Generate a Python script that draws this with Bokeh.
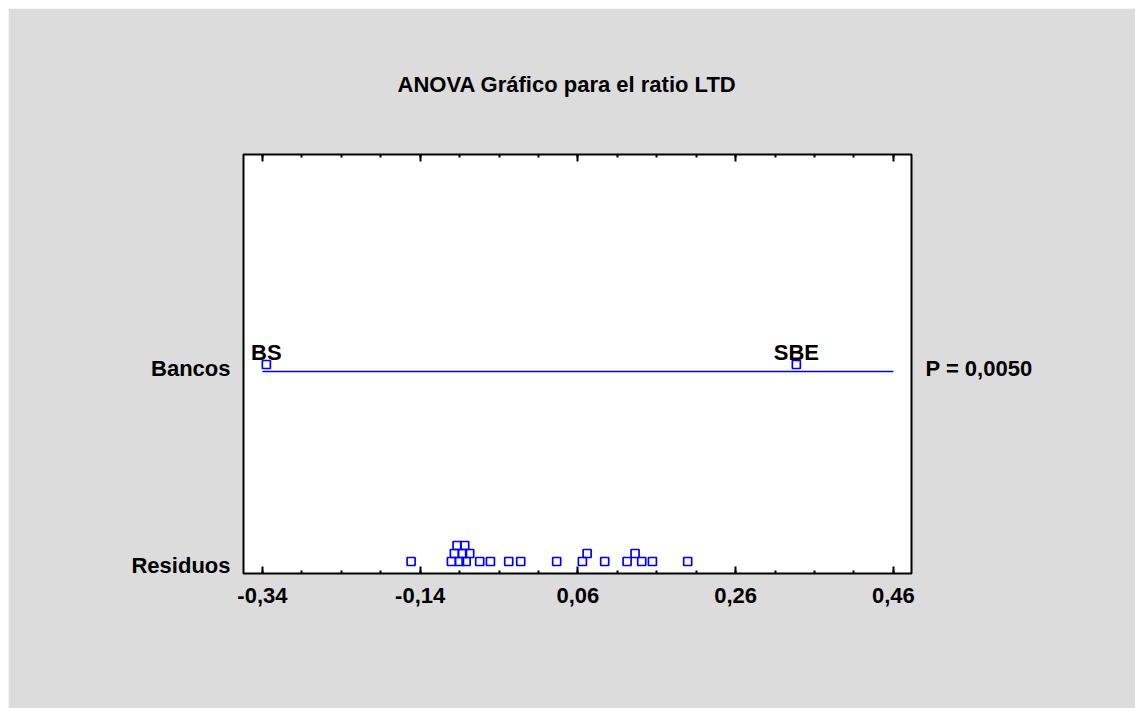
import numpy as np
from bokeh.plotting import figure
from bokeh.models import (FixedTicker, LinearAxis, CustomJSTickFormatter, Title,
                          Range1d, ColumnDataSource)
from bokeh.core.properties import value
from bokeh.embed import file_html
from bokeh.resources import INLINE

# ---------------- data ----------------
title_text = "ANOVA Gráfico para el ratio LTD"
x_ticks = [-0.34, -0.14, 0.06, 0.26, 0.46]
categories = ["Residuos", "Bancos"]
p_value_text = "P = 0,0050"

group_names = ["BS", "SBE"]
group_effects = [-0.335, 0.337]

residuals = [-0.1515, -0.1004, -0.0902, -0.0817, -0.0645, -0.0509, -0.0277, -0.0125,
             0.0331, 0.0657, 0.0940, 0.1224, 0.1409, 0.1545, 0.1992,
             -0.0966, -0.0864, -0.0772, 0.0717, 0.1325,
             -0.0932, -0.0835]
residual_stack = [0, 0, 0, 0, 0, 0, 0, 0, 0, 0, 0, 0, 0, 0, 0,
                  1, 1, 1, 1, 1,
                  2, 2]

# ---------------- layout ----------------
W, H = 1127, 700
FONT = "Liberation Sans"
BLUE = "#0000ff"
GREY = "#dcdcdc"
FS = "22px"

cat_y = {"Residuos": 8, "Bancos": 205}
STACK = 8

p = figure(width=W, height=H, output_backend="svg", toolbar_location=None,
           x_range=Range1d(-0.364, 0.483), y_range=Range1d(0, 419),
           x_axis_location=None, y_axis_location=None,
           min_border_left=235, min_border_right=224,
           min_border_top=146, min_border_bottom=135)
p.margin = (8, 0, 0, 8)
p.border_fill_color = GREY
p.background_fill_color = "white"
p.outline_line_color = "black"
p.outline_line_width = 2
p.grid.visible = False

minor = list(np.round(np.arange(x_ticks[0], x_ticks[-1] + 1e-9, 0.05), 3))
fmt = CustomJSTickFormatter(code="return tick.toFixed(2).replace('.', ',')")

def xaxis(loc, labels):
    ax = LinearAxis(ticker=FixedTicker(ticks=x_ticks, minor_ticks=minor), formatter=fmt)
    ax.axis_line_color = None
    ax.major_tick_in = 7
    ax.major_tick_out = 0
    ax.minor_tick_in = 3
    ax.minor_tick_out = 0
    ax.major_tick_line_width = 2
    ax.minor_tick_line_width = 2
    ax.major_tick_line_color = "black"
    ax.minor_tick_line_color = "black"
    ax.major_label_text_font = FONT
    ax.major_label_text_font_style = "bold"
    ax.major_label_text_font_size = FS
    ax.major_label_text_color = "black" if labels else None
    ax.major_label_standoff = 14
    p.add_layout(ax, loc)

xaxis("below", True)
xaxis("above", False)

ly = LinearAxis(ticker=FixedTicker(ticks=[cat_y[c] for c in categories]),
                major_label_overrides={cat_y[c]: c for c in categories})
ly.axis_line_color = None
ly.major_tick_in = 0
ly.major_tick_out = 0
ly.minor_tick_line_color = None
ly.major_label_text_font = FONT
ly.major_label_text_font_style = "bold"
ly.major_label_text_font_size = FS
ly.major_label_text_color = "black"
ly.major_label_standoff = 13
p.add_layout(ly, "left")

ry = LinearAxis(ticker=FixedTicker(ticks=[cat_y["Bancos"]]),
                major_label_overrides={cat_y["Bancos"]: p_value_text})
ry.axis_line_color = None
ry.major_tick_in = 0
ry.major_tick_out = 0
ry.minor_tick_line_color = None
ry.major_label_text_font = FONT
ry.major_label_text_font_style = "bold"
ry.major_label_text_font_size = FS
ry.major_label_text_color = "black"
ry.major_label_standoff = 14
p.add_layout(ry, "right")

t = Title(text=title_text, align="left", offset=154, text_font=FONT,
          text_font_style="bold", text_font_size=FS, text_color="black",
          standoff=111, vertical_align="top")
p.add_layout(t, "above")

# Bancos line
p.line(x=[x_ticks[0], x_ticks[-1]], y=[cat_y["Bancos"] - 3] * 2, line_color=BLUE, line_width=1.5)

# group means
gsrc = ColumnDataSource(dict(x=group_effects, y=[cat_y["Bancos"] + 4] * len(group_effects),
                             name=group_names))
p.text("x", "y", text="name", source=gsrc, text_align="center", text_baseline="bottom",
       y_offset=0, text_font=value(FONT), text_font_style="bold", text_font_size=FS,
       text_color="black")
p.scatter("x", "y", source=gsrc, marker="square", size=8, fill_alpha=0,
          line_color=BLUE, line_width=1.7)

# residuals
rsrc = ColumnDataSource(dict(x=residuals,
                             y=[cat_y["Residuos"] + 4 + STACK * s for s in residual_stack]))
p.scatter("x", "y", source=rsrc, marker="square", size=8, fill_alpha=0,
          line_color=BLUE, line_width=1.7)

open("out.html", "w").write(file_html(p, INLINE))
